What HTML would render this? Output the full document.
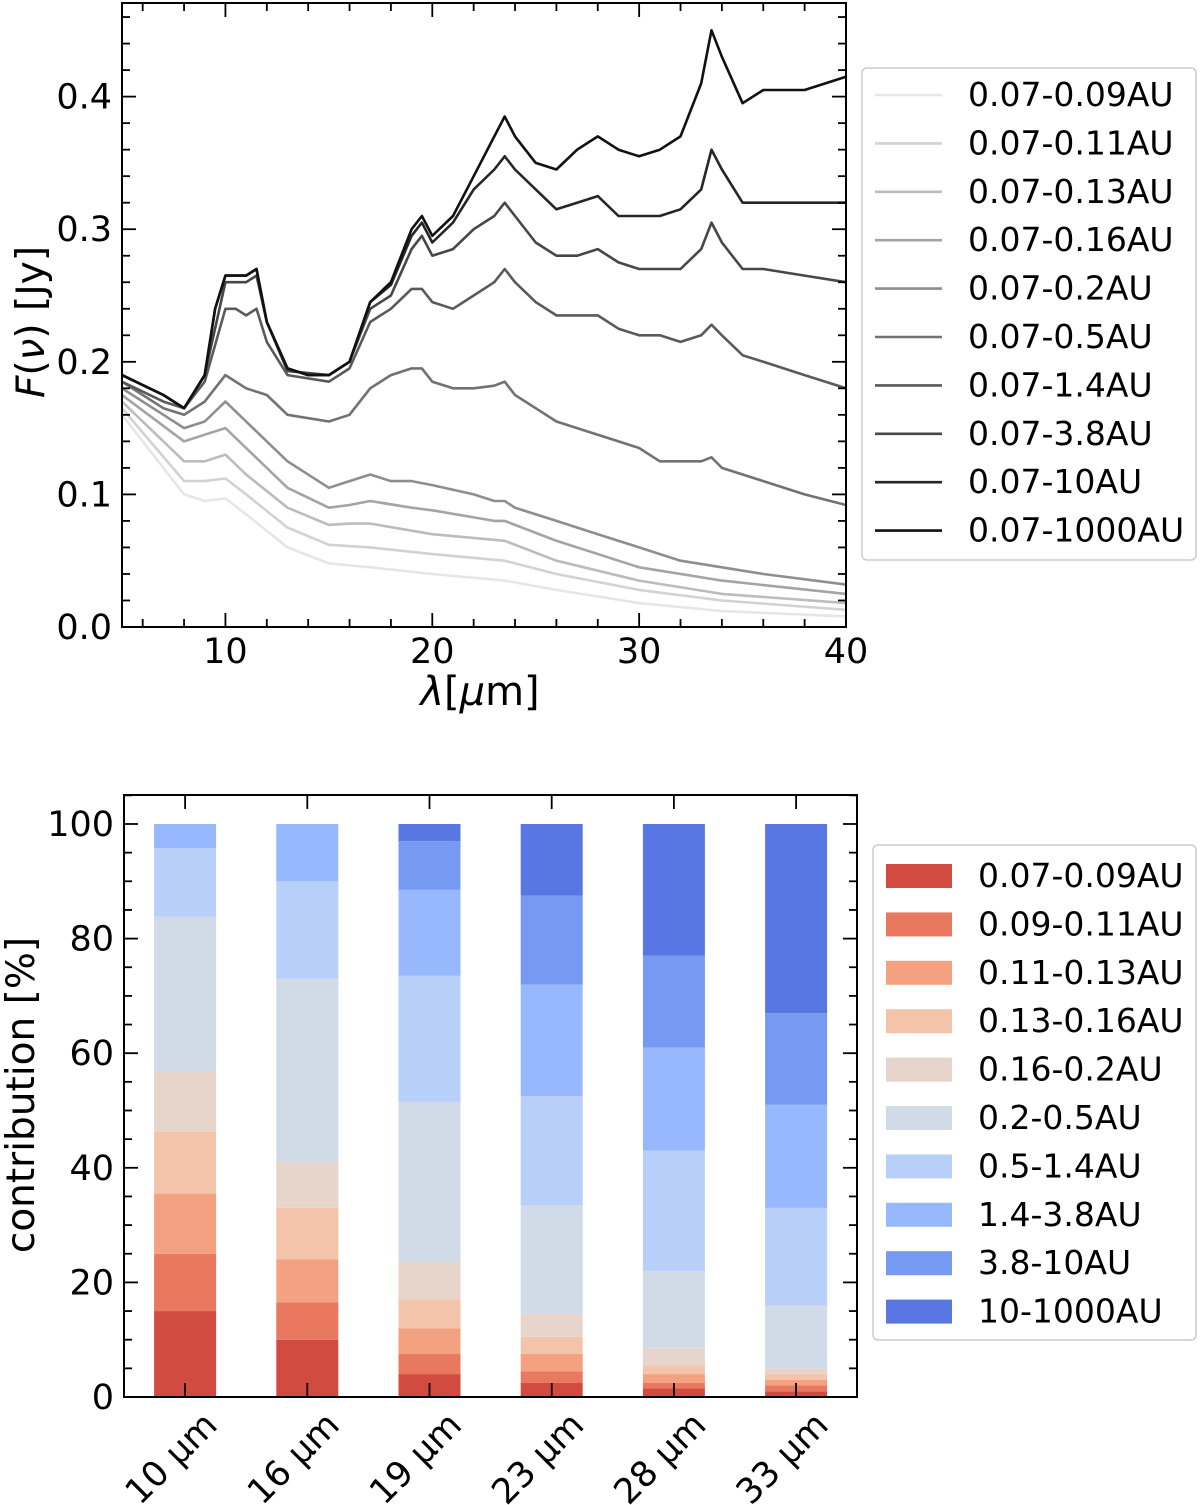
<!DOCTYPE html>
<html><head><meta charset="utf-8"><style>
html,body{margin:0;padding:0;background:#fff;}
svg{display:block;font-family:"DejaVu Sans","Liberation Sans",sans-serif;}
</style></head><body>
<svg id="fig" width="1200" height="1505" viewBox="0 0 1200 1505">
<g id="topchart"></g>
<g id="botchart"></g>
</svg>
<script>
// ---------- Top chart data ----------
const seriesLabels = ["0.07-0.09AU","0.07-0.11AU","0.07-0.13AU","0.07-0.16AU","0.07-0.2AU","0.07-0.5AU","0.07-1.4AU","0.07-3.8AU","0.07-10AU","0.07-1000AU"];
const seriesColors = ["#e6e6e6","#d2d2d2","#bcbcbc","#a4a4a4","#8e8e8e","#727272","#5a5a5a","#474747","#262626","#111111"];
const wl09 = [5,8,9,10,11,13,15,17,20,23.5,26,30,34,40];
const f09  = [0.16,0.1,0.095,0.097,0.085,0.06,0.048,0.045,0.04,0.035,0.028,0.018,0.012,0.008];
const wl11 = [5,8,9,10,11,13,15,17,20,23.5,26,30,34,40];
const f11  = [0.165,0.11,0.11,0.112,0.1,0.075,0.062,0.06,0.055,0.05,0.04,0.028,0.02,0.013];
const wl13 = [5,8,9,10,11,13,15,16,17,20,23.5,26,30,34,40];
const f13  = [0.17,0.125,0.125,0.13,0.115,0.09,0.077,0.078,0.078,0.07,0.065,0.05,0.035,0.025,0.018];
const wl16 = [5,8,9,10,11,12,13,15,16,17,19,20,23,23.5,26,30,34,40];
const f16  = [0.175,0.14,0.145,0.15,0.135,0.12,0.105,0.09,0.092,0.095,0.09,0.088,0.08,0.08,0.065,0.045,0.035,0.025];
const wl2  = [5,7,8,9,10,11,12,13,15,16,17,18,19,20,22,23,23.5,24,26,28,30,32,34,36,40];
const f2   = [0.18,0.16,0.15,0.155,0.17,0.155,0.14,0.125,0.105,0.11,0.115,0.11,0.11,0.107,0.1,0.095,0.095,0.09,0.08,0.07,0.06,0.05,0.045,0.04,0.032];
const wl5  = [5,7,8,9,10,11,12,13,15,16,17,18,19,19.5,20,21,22,23,23.5,24,25,26,27,28,29,30,31,32,33,33.5,34,36,38,40];
const f5   = [0.185,0.165,0.16,0.17,0.19,0.18,0.175,0.16,0.155,0.16,0.18,0.19,0.195,0.195,0.185,0.18,0.18,0.182,0.185,0.175,0.165,0.155,0.15,0.145,0.14,0.135,0.125,0.125,0.125,0.128,0.12,0.11,0.1,0.092];
const wl14 = [5,7,8,9,10,10.5,11,11.5,12,13,15,16,17,18,19,19.5,20,21,22,23,23.5,24,25,26,27,28,29,30,31,32,33,33.5,34,35,36,38,40];
const f14  = [0.185,0.17,0.165,0.185,0.24,0.24,0.235,0.24,0.215,0.19,0.185,0.195,0.23,0.24,0.255,0.255,0.245,0.24,0.25,0.26,0.27,0.26,0.245,0.235,0.235,0.235,0.225,0.22,0.22,0.215,0.22,0.228,0.22,0.205,0.2,0.19,0.18];
const wl38 = [5,7,8,9,10,11,11.5,12,13,15,16,17,18,19,19.5,20,21,22,23,23.5,24,25,26,27,28,29,30,31,32,33,33.5,34,35,36,38,40];
const f38  = [0.19,0.175,0.165,0.19,0.26,0.26,0.265,0.23,0.193,0.19,0.2,0.24,0.25,0.285,0.295,0.28,0.285,0.3,0.31,0.32,0.31,0.29,0.28,0.28,0.285,0.275,0.27,0.27,0.27,0.285,0.305,0.29,0.27,0.27,0.265,0.26];
const wl10 = [5,7,8,9,9.5,10,10.5,11,11.5,12,13,14,15,16,17,18,19,19.5,20,21,22,23,23.5,24,25,26,27,28,29,30,31,32,33,33.5,34,35,36,38,40];
const f10  = [0.19,0.175,0.165,0.19,0.24,0.265,0.265,0.265,0.27,0.23,0.195,0.19,0.19,0.2,0.245,0.258,0.295,0.305,0.29,0.305,0.33,0.345,0.355,0.345,0.33,0.315,0.32,0.325,0.31,0.31,0.31,0.315,0.33,0.36,0.345,0.32,0.32,0.32,0.32];
const wl1000 = [5,7,8,9,9.5,10,10.5,11,11.5,12,13,14,15,16,17,18,19,19.5,20,21,22,23,23.5,24,25,26,27,28,29,30,31,32,33,33.5,34,35,36,38,40];
const f1000  = [0.19,0.175,0.165,0.19,0.24,0.265,0.265,0.265,0.27,0.23,0.195,0.19,0.19,0.2,0.245,0.26,0.3,0.31,0.295,0.31,0.34,0.37,0.385,0.37,0.35,0.345,0.36,0.37,0.36,0.355,0.36,0.37,0.41,0.45,0.43,0.395,0.405,0.405,0.415];
const allWl = [wl09,wl11,wl13,wl16,wl2,wl5,wl14,wl38,wl10,wl1000];
const allF  = [f09,f11,f13,f16,f2,f5,f14,f38,f10,f1000];
const xTicksTop = [10,20,30,40];
const yTicksTop = [0.0,0.1,0.2,0.3,0.4];

// ---------- Bottom chart data ----------
const barCats = ["10 μm","16 μm","19 μm","23 μm","28 μm","33 μm"];
const zoneLabels = ["0.07-0.09AU","0.09-0.11AU","0.11-0.13AU","0.13-0.16AU","0.16-0.2AU","0.2-0.5AU","0.5-1.4AU","1.4-3.8AU","3.8-10AU","10-1000AU"];
const zoneColors = ["#d24b40","#e8795f","#f3a181","#f4c4aa","#e7d5cc","#d1dae7","#b7cff9","#98b8fd","#7699f1","#5977e3"];
const pct10 = [15,10,10.5,10.8,10.5,27,12,4.2,0,0];
const pct16 = [10,6.5,7.5,9,8,32,17,10,0,0];
const pct19 = [4,3.5,4.5,5,6.5,28,22,15,8.5,3];
const pct23 = [2.5,2,3,3,4,19,19,19.5,15.5,12.5];
const pct28 = [1.5,1,1.5,1.5,3,13.5,21,18,16,23];
const pct33 = [1,1,1,1,1,11,17,18,16,33];
const allPct = [pct10,pct16,pct19,pct23,pct28,pct33];
const yTicksBot = [0,20,40,60,80,100];

const NS="http://www.w3.org/2000/svg";
function mk(tag,attrs,parent){const e=document.createElementNS(NS,tag);for(const k in attrs)e.setAttribute(k,attrs[k]);parent.appendChild(e);return e;}

// ---- top ----
const topG=document.getElementById('topchart');
const T={l:122,r:846,t:3,b:627,x0:5,x1:40,y0:0,y1:0.4706};
const tx=v=>T.l+(v-T.x0)/(T.x1-T.x0)*(T.r-T.l);
const ty=v=>T.b-(v-T.y0)/(T.y1-T.y0)*(T.b-T.t);
for(let i=0;i<allF.length;i++){
  const pts=allWl[i].map((w,j)=>tx(w).toFixed(1)+','+ty(allF[i][j]).toFixed(1)).join(' ');
  const pl=mk('polyline',{points:pts,fill:'none',stroke:seriesColors[i],'stroke-width':2.6,'stroke-linejoin':'round'},topG);
  
  
}
const tf=mk('rect',{x:T.l,y:T.t,width:T.r-T.l,height:T.b-T.t,fill:'none',stroke:'#000','stroke-width':2},topG);


for(let v=6;v<=40;v+=2){const x=tx(v),L=(v%10===0)?14:8;
  mk('line',{x1:x,x2:x,y1:T.b,y2:T.b-L,stroke:'#000','stroke-width':1.8},topG);
  mk('line',{x1:x,x2:x,y1:T.t,y2:T.t+L,stroke:'#000','stroke-width':1.8},topG);}
xTicksTop.forEach(v=>{const t=mk('text',{x:tx(v),y:T.b+36,'font-size':35,'text-anchor':'middle'},topG);t.textContent=v;
  
  });
for(let k=0;k<=23;k++){const v=k*0.02,y=ty(v),L=(k%5===0)?14:8;
  mk('line',{x1:T.l,x2:T.l+L,y1:y,y2:y,stroke:'#000','stroke-width':1.8},topG);
  mk('line',{x1:T.r,x2:T.r-L,y1:y,y2:y,stroke:'#000','stroke-width':1.8},topG);}
yTicksTop.forEach(v=>{const t=mk('text',{x:T.l-10,y:ty(v)+12,'font-size':35,'text-anchor':'end'},topG);t.textContent=v.toFixed(1);
  
  });
let t1=mk('text',{x:480,y:705,'font-size':40,'text-anchor':'middle'},topG);
t1.innerHTML='<tspan font-style="italic">λ</tspan>[<tspan font-style="italic">μ</tspan>m]';


let t2=mk('text',{x:0,y:0,'font-size':39,'text-anchor':'middle',transform:'translate(44,322) rotate(-90)'},topG);
t2.innerHTML='<tspan font-style="italic">F</tspan>(<tspan font-style="italic">ν</tspan>) [Jy]';


const lg=mk('g',{},topG);


mk('rect',{x:862,y:68,width:334,height:492,rx:5,fill:'#fff',stroke:'#ccc','stroke-width':1.5},lg);
seriesLabels.forEach((s,i)=>{const y=95+i*48.4;
  const g=mk('g',{},lg);
  
  
  mk('line',{x1:875,x2:942,y1:y,y2:y,stroke:seriesColors[i],'stroke-width':2.6},g);
  const t=mk('text',{x:968,y:y+11,'font-size':33},g);t.textContent=s;});

// ---- bottom ----
const botG=document.getElementById('botchart');
const B={l:124,r:857,t:795,b:1397,y0:0,y1:105.06};
const bw=122.2;
const bx=i=>B.l+(i+0.5)*bw;
const by=v=>B.b-(v-B.y0)/(B.y1-B.y0)*(B.b-B.t);
allPct.forEach((arr,i)=>{let c=0;
  arr.forEach((p,z)=>{if(p<=0){return;}
    const r=mk('rect',{x:bx(i)-31,y:by(c+p),width:62,height:by(c)-by(c+p),fill:zoneColors[z]},botG);
    
    
    c+=p;});});
const bf=mk('rect',{x:B.l,y:B.t,width:B.r-B.l,height:B.b-B.t,fill:'none',stroke:'#000','stroke-width':2},botG);


for(let v=0;v<=105;v+=5){const y=by(v),L=(v%20===0)?14:8;
  mk('line',{x1:B.l,x2:B.l+L,y1:y,y2:y,stroke:'#000','stroke-width':1.8},botG);
  mk('line',{x1:B.r,x2:B.r-L,y1:y,y2:y,stroke:'#000','stroke-width':1.8},botG);}
yTicksBot.forEach(v=>{const t=mk('text',{x:B.l-10,y:by(v)+12,'font-size':35,'text-anchor':'end'},botG);t.textContent=v;
  
  });
barCats.forEach((c,i)=>{const x=bx(i);
  mk('line',{x1:x,x2:x,y1:B.b,y2:B.b-14,stroke:'#000','stroke-width':1.8},botG);
  mk('line',{x1:x,x2:x,y1:B.t,y2:B.t+14,stroke:'#000','stroke-width':1.8},botG);
  const t=mk('text',{x:0,y:0,'font-size':35,'text-anchor':'end',transform:`translate(${x+34},${B.b+30}) rotate(-45)`},botG);t.textContent=c;
  
  });
let t3=mk('text',{x:0,y:0,'font-size':39,'text-anchor':'middle',transform:'translate(34,1095) rotate(-90)'},botG);t3.textContent='contribution [%]';


const lg2=mk('g',{},botG);


mk('rect',{x:873,y:845,width:323,height:495,rx:5,fill:'#fff',stroke:'#ccc','stroke-width':1.5},lg2);
zoneLabels.forEach((s,i)=>{const y=876+i*48.4;
  const g=mk('g',{},lg2);
  
  
  mk('rect',{x:886,y:y-12,width:66,height:24,fill:zoneColors[i]},g);
  const t=mk('text',{x:978,y:y+11,'font-size':33},g);t.textContent=s;});
</script>
</body></html>
